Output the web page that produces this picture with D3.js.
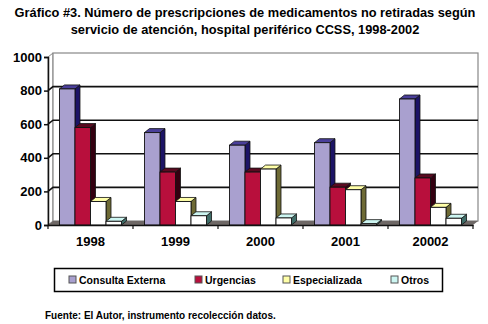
<!DOCTYPE html>
<html lang="es">
<head>
    <meta charset="utf-8">
    <title>Gráfico #3</title>
    <script src="https://d3js.org/d3.v7.min.js"></script>
    <style>
        * { margin: 0; padding: 0; }
        body { width: 488px; height: 324px; background: white; overflow: hidden; }
        svg text { font-family: "Liberation Sans", Arial, sans-serif; font-weight: bold; fill: black; }
    </style>
</head>
<body>
<div id="container"></div>
<script>
    const years = ["1998", "1999", "2000", "2001", "20002"];
    const series = ["Consulta Externa", "Urgencias", "Especializada", "Otros"];
    const consultaExterna = [810, 550, 475, 490, 750];
    const urgencias = [580, 315, 315, 225, 280];
    const especializada = [140, 140, 333, 210, 105];
    const otros = [22, 55, 42, 8, 40];
    const yTicks = [0, 200, 400, 600, 800, 1000];

    const values = [consultaExterna, urgencias, especializada, otros];

    // front, top, side colours per series
    const colors = [
        { front: "#a9a0cf", top: "#4a3f9a", side: "#1c1466" },
        { front: "#b80f3c", top: "#5a0a20", side: "#330010" },
        { front: "#ffffff", top: "#ffffa8", side: "#6e6a35" },
        { front: "#ffffff", top: "#cdf6f2", side: "#3f6d68" }
    ];

    const w = 488, h = 324;
    const pLeft = 48, pRight = 473, pBottom = 225, pTop = 57;
    const dx = 5, dy = -4;

    const svg = d3.select("#container").append("svg")
        .attr("width", w).attr("height", h);

    // title
    const title = svg.append("text")
        .attr("x", 245).attr("text-anchor", "middle")
        .style("font-size", "12.8px");
    title.append("tspan").attr("x", 245).attr("y", 17)
        .text("Gráfico #3. Número de prescripciones de medicamentos no retiradas según");
    title.append("tspan").attr("x", 245).attr("y", 34)
        .text("servicio de atención, hospital periférico CCSS, 1998-2002");

    const x0 = d3.scaleBand().domain(years).range([pLeft, pRight])
        .paddingInner(0.27).paddingOuter(0.135);
    const x1 = d3.scaleBand().domain(series).range([0, x0.bandwidth()]);
    const y = d3.scaleLinear().domain([0, 1000]).range([pBottom, pTop]);

    // walls
    svg.append("polygon")
        .attr("points", [[pLeft, pBottom], [pLeft + dx, pBottom + dy], [pLeft + dx, pTop + dy], [pLeft, pTop]].join(" "))
        .attr("fill", "white").attr("stroke", "#888").attr("stroke-width", 1);
    svg.append("rect")
        .attr("x", pLeft + dx).attr("y", pTop + dy)
        .attr("width", pRight - pLeft).attr("height", pBottom - pTop)
        .attr("fill", "white").attr("stroke", "#888").attr("stroke-width", 1.2);
    // floor
    svg.append("polygon")
        .attr("points", [[pLeft, pBottom], [pRight, pBottom], [pRight + dx, pBottom + dy], [pLeft + dx, pBottom + dy]].join(" "))
        .attr("fill", "#6e6866");

    // gridlines
    const grid = svg.append("g");
    grid.selectAll("path")
        .data(yTicks.filter(d => d > 0 && d < 1000))
        .enter().append("path")
        .attr("d", d => `M${pLeft},${y(d)}L${pLeft + dx},${y(d) + dy}L${pRight + dx},${y(d) + dy}`)
        .attr("fill", "none").attr("stroke", "#111").attr("stroke-width", 1.6);

    // bars
    const groups = svg.selectAll("g.year")
        .data(years).enter().append("g")
        .attr("class", "year")
        .attr("transform", d => `translate(${x0(d)},0)`);

    const bw = x1.bandwidth();
    const bars = groups.selectAll("g.bar")
        .data((d, i) => series.map((s, j) => ({ s, j, v: values[j][i] })))
        .enter().append("g").attr("class", "bar");

    bars.append("polygon")
        .attr("points", d => {
            const x = x1(d.s) + bw, yt = y(d.v);
            return [[x, pBottom], [x + dx, pBottom + dy], [x + dx, yt + dy], [x, yt]].join(" ");
        })
        .attr("fill", d => colors[d.j].side).attr("stroke", "#111").attr("stroke-width", 0.8);
    bars.append("polygon")
        .attr("points", d => {
            const x = x1(d.s), yt = y(d.v);
            return [[x, yt], [x + dx, yt + dy], [x + bw + dx, yt + dy], [x + bw, yt]].join(" ");
        })
        .attr("fill", d => colors[d.j].top).attr("stroke", "#111").attr("stroke-width", 0.8);
    bars.append("rect")
        .attr("x", d => x1(d.s)).attr("y", d => y(d.v))
        .attr("width", bw).attr("height", d => pBottom - y(d.v))
        .attr("fill", d => colors[d.j].front).attr("stroke", "#111").attr("stroke-width", 0.9);

    // y axis
    const yAxis = d3.axisLeft(y).tickValues(yTicks).tickFormat(d3.format("d")).tickSize(4).tickPadding(2);
    const ya = svg.append("g").attr("transform", `translate(${pLeft},0)`).call(yAxis);
    ya.select(".domain").attr("stroke", "#111").attr("stroke-width", 1.5);
    ya.selectAll(".tick line").attr("stroke", "#111").attr("stroke-width", 1.5);
    ya.selectAll("text").style("font-size", "13px").attr("fill", "black");

    // x axis
    const xa = svg.append("g").attr("transform", `translate(0,${pBottom})`)
        .call(d3.axisBottom(x0).tickSize(0).tickPadding(12));
    xa.select(".domain").attr("stroke", "#111").attr("stroke-width", 1.5);
    xa.selectAll("text").style("font-size", "13px").attr("fill", "black");
    xa.selectAll("line.sep")
        .data(d3.range(years.length + 1))
        .enter().append("line").attr("class", "sep")
        .attr("x1", i => pLeft + i * x0.step()).attr("x2", i => pLeft + i * x0.step())
        .attr("y1", 0).attr("y2", 4)
        .attr("stroke", "#111").attr("stroke-width", 1.2);

    // legend
    const lg = svg.append("g");
    lg.append("rect").attr("x", 54.5).attr("y", 268.5).attr("width", 388).attr("height", 23)
        .attr("fill", "white").attr("stroke", "black").attr("stroke-width", 1.5);
    const legendX = [69, 195, 283, 391];
    const items = lg.selectAll("g.item").data(series).enter().append("g")
        .attr("transform", (d, i) => `translate(${legendX[i]},276)`);
    items.append("rect").attr("width", 7).attr("height", 7)
        .attr("fill", (d, i) => i < 2 ? colors[i].front : colors[i].top)
        .attr("stroke", "#555").attr("stroke-width", 1);
    items.append("text").attr("x", 10).attr("y", 7.5)
        .style("font-size", "10.5px").text(d => d);

    // source
    svg.append("text").attr("x", 45).attr("y", 319)
        .style("font-size", "10px")
        .text("Fuente: El Autor, instrumento recolección datos.");
</script>
</body>
</html>
